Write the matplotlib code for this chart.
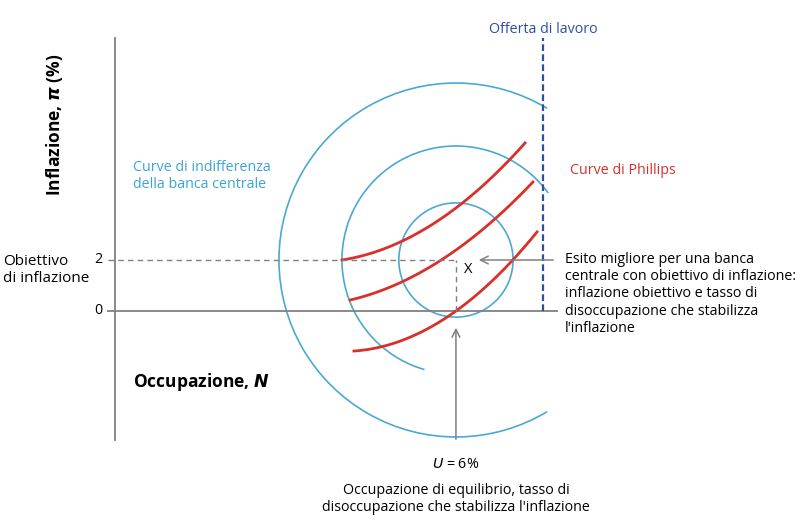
import numpy as np
import matplotlib
matplotlib.use("Agg")
import matplotlib.pyplot as plt
from matplotlib.patches import Arc

plt.rcParams['font.family'] = ['Open Sans', 'DejaVu Sans']

# data (units: employment / inflation)
center = (13.37, 2.0)          # target inflation 2%, equilibrium employment
radii = [2.24, 4.47, 6.94]
arc_spans = [(0, 360), (36, 254), (59, 301)]
labour_supply = 16.78
phillips = [
    ([8.90, 13.37, 16.08], [2.0, 4.04, 6.59]),
    ([9.22, 13.37, 16.39], [0.43, 2.39, 5.06]),
    ([9.37, 13.37, 16.55], [-1.57, 0.0, 3.10]),
]
yticks = [0, 2]

S = 25.5
fig = plt.figure(figsize=(8.09, 5.25), dpi=100)
ax = fig.add_axes([0, 0, 1, 1])
ax.set_xlim(-115/S, (809-115)/S)
ax.set_ylim((311-525)/S, 311/S)
ax.axis('off')

gray = '#808080'
blue = '#4ba9d1'
red = '#d8302a'
navy = '#2e4e9e'
fs = 10.3

ax.plot([0, 0], [(311-440)/S, (311-38)/S], color=gray, lw=1.3)
ax.plot([-7/S, (557-115)/S], [0, 0], color=gray, lw=1.3)

for r, (t1, t2) in zip(radii, arc_spans):
    ax.add_patch(Arc(center, 2*r, 2*r, theta1=t1, theta2=t2, color=blue, lw=1.2))

for xs, ys in phillips:
    c = np.polyfit(xs, ys, 2)
    xx = np.linspace(xs[0], xs[-1], 100)
    ax.plot(xx, np.polyval(c, xx), color=red, lw=2)

ax.plot([labour_supply]*2, [0, (311-38)/S], color=navy, lw=1.6, ls=(0, (3, 1.5)))
ax.text(labour_supply, (311-30)/S, 'Offerta di lavoro', color=navy, fontsize=fs,
        ha='center', va='center')

ax.plot([-7/S, center[0]], [2, 2], color=gray, lw=1, ls=(0, (4, 3)))
ax.plot([center[0]]*2, [0, 2], color=gray, lw=1, ls=(0, (4, 3)))

for t in yticks:
    ax.text(-13/S, t, str(t), fontsize=fs, ha='right', va='center')
ax.text(-112/S, 2 - 10/S, 'Obiettivo\ndi inflazione', fontsize=11, ha='left',
        va='center', linespacing=1.1)

ax.text(center[0] + 12/S, center[1] - 10/S, 'X', fontsize=10.5, ha='center', va='center')

ax.text(-60/S, (311-125)/S, r'Inflazione, $\mathbfit{\pi}$ (%)', rotation=90, fontsize=12.5,
        fontweight='bold', ha='center', va='center')
ax.text(18/S, (311-382)/S, r'Occupazione, $\mathbfit{N}$', fontsize=12.5,
        fontweight='bold', ha='left', va='center')

ax.text(18/S, (311-176)/S, 'Curve di indifferenza\ndella banca centrale', color='#3aa6d5',
        fontsize=fs, ha='left', va='center', linespacing=1.1)
ax.text((570-115)/S, (311-171)/S, 'Curve di Phillips', color=red, fontsize=fs,
        ha='left', va='center')

ax.annotate('', xy=((476-115)/S, 2), xytext=((556-115)/S, 2),
            arrowprops=dict(arrowstyle='->', color=gray, lw=1.1, mutation_scale=14))
ax.text((565-115)/S, (311-252)/S, "Esito migliore per una banca\ncentrale con obiettivo di inflazione:\n"
        "inflazione obiettivo e tasso di\ndisoccupazione che stabilizza\nl'inflazione",
        fontsize=fs, ha='left', va='top', linespacing=1.2)
ax.annotate('', xy=(center[0], (311-325)/S), xytext=(center[0], (311-442)/S),
            arrowprops=dict(arrowstyle='->', color=gray, lw=1.1, mutation_scale=14))
ax.text(center[0], (311-465)/S, r'$\it{U}$ = 6%', fontsize=fs, ha='center', va='center')
ax.text(center[0], (311-499)/S, "Occupazione di equilibrio, tasso di\ndisoccupazione che stabilizza l'inflazione",
        fontsize=fs, ha='center', va='center', linespacing=1.2)

fig.savefig('out.png', dpi=100)
